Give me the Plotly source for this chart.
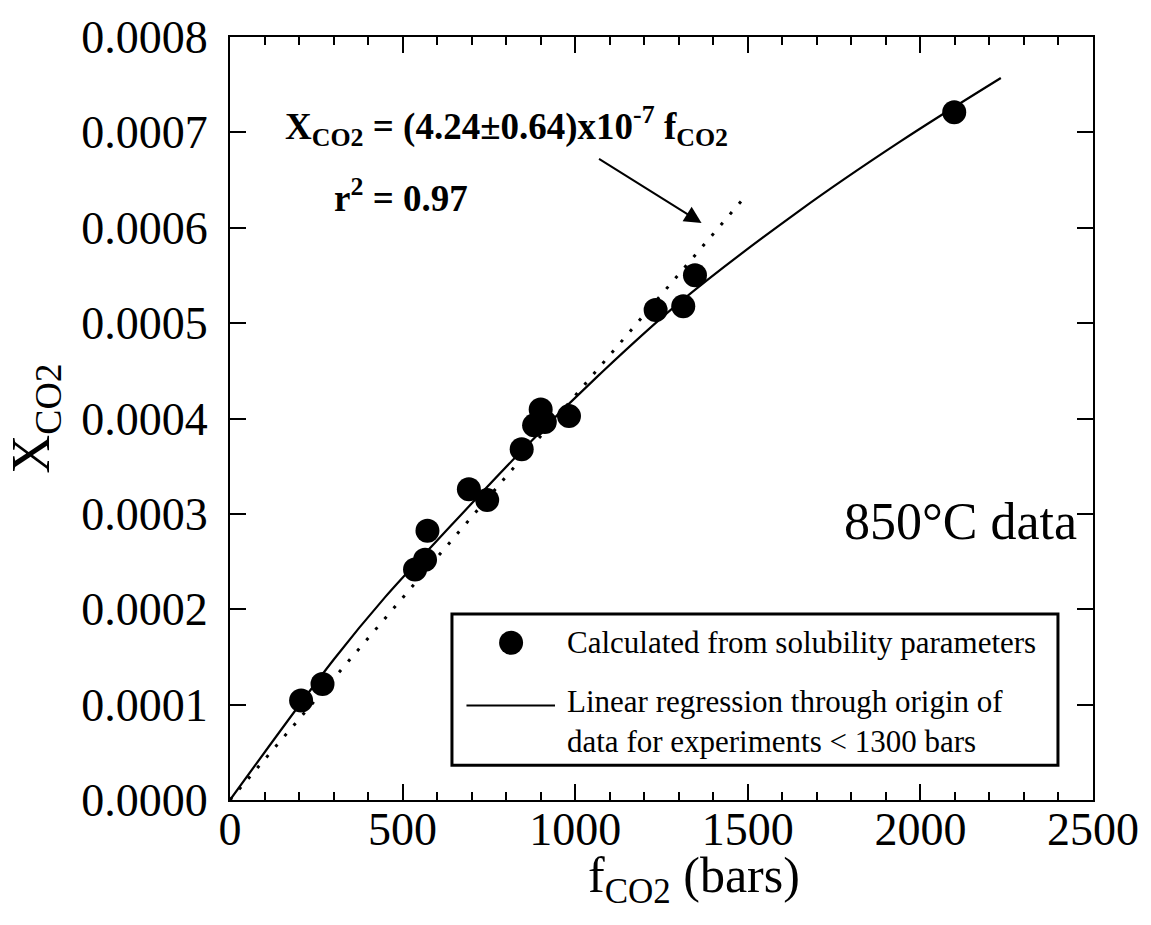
import plotly.graph_objects as go

# Calculated CO2 solubility points at 850 °C
f_co2 = [206, 268, 536, 565, 572, 692, 745, 845, 881, 900, 912, 982, 1233, 1313, 1347, 2098]
x_co2 = [0.0001043, 0.0001217, 0.0002416, 0.0002520, 0.0002822, 0.0003257, 0.0003146,
         0.0003677, 0.0003928, 0.0004094, 0.0003962, 0.0004025, 0.0005137, 0.0005177,
         0.0005502, 0.0007212]

# Smooth trend curve through the calculated points
curve_f = [0, 300, 450, 600, 850, 1070, 1300, 1650, 1940, 2233]
curve_x = [0, 0.000147, 0.000213, 0.000272, 0.000368, 0.000446, 0.000521, 0.000618, 0.000690, 0.000757]

# Linear regression through origin: X = 4.24e-7 * f
reg_slope = 4.24e-7
reg_f = [0, 1500]
reg_x = [reg_slope * f for f in reg_f]

x_ticks = [0, 500, 1000, 1500, 2000, 2500]
y_ticks = [0.0000, 0.0001, 0.0002, 0.0003, 0.0004, 0.0005, 0.0006, 0.0007, 0.0008]

SERIF = "Liberation Serif, Times New Roman, serif"

fig = go.Figure()
fig.add_trace(go.Scatter(x=reg_f, y=reg_x, mode="lines",
                         line=dict(color="black", width=3, dash="3px,11px"),
                         showlegend=False, hoverinfo="skip"))
fig.add_trace(go.Scatter(x=curve_f, y=curve_x, mode="lines", line_shape="spline",
                         line=dict(color="black", width=2.2),
                         showlegend=False))
fig.add_trace(go.Scatter(x=f_co2, y=x_co2, mode="markers",
                         marker=dict(color="black", size=24, line=dict(width=0)),
                         showlegend=False))

axis_common = dict(showline=True, linecolor="black", linewidth=2, mirror="ticks",
                   ticks="inside", tickcolor="black", tickwidth=2, ticklen=16,
                   showgrid=False, zeroline=False,
                   tickfont=dict(family=SERIF, size=46, color="black"))

fig.update_xaxes(range=[0, 2500], tickvals=x_ticks, ticktext=[str(v) for v in x_ticks],
                 ticklabelstandoff=-12,
                 minor=dict(dtick=100, ticks="inside", ticklen=8, tickwidth=2, tickcolor="black"),
                 **axis_common)
fig.update_yaxes(range=[0, 0.0008], tickvals=y_ticks, ticktext=[f"{v:.4f}" for v in y_ticks],
                 ticklabelstandoff=11,
                 title=dict(text="X<sub>CO2</sub>", standoff=14,
                            font=dict(family=SERIF, size=54, color="black")),
                 **axis_common)

# Legend box drawn by hand
legend_shapes = [
    dict(type="rect", xref="paper", yref="paper", x0=0.2572, x1=0.9594, y0=0.0456, y1=0.2438,
         line=dict(color="black", width=3), fillcolor="white", layer="above"),
    dict(type="circle", xref="paper", yref="paper", xsizemode="pixel", ysizemode="pixel",
         xanchor=0.3257, yanchor=0.2060, x0=-12, x1=12, y0=-12, y1=12,
         fillcolor="black", line=dict(width=0), layer="above"),
    dict(type="line", xref="paper", yref="paper", x0=0.2740, x1=0.3766, y0=0.1239, y1=0.1239,
         line=dict(color="black", width=2), layer="above"),
]

annotations = [
    dict(xref="paper", yref="paper", x=0.3882, y=0.2060, xanchor="left", yanchor="middle",
         text="Calculated from solubility parameters", showarrow=False,
         font=dict(family=SERIF, size=31, color="black")),
    dict(xref="paper", yref="paper", x=0.3882, y=0.1030, xanchor="left", yanchor="middle",
         text="Linear regression through origin of<br>data for experiments < 1300 bars",
         showarrow=False, align="left",
         font=dict(family=SERIF, size=31, color="black")),
    dict(x=153, y=0.000707, xanchor="left", yanchor="middle", showarrow=False,
         text="<b>X<sub>CO2</sub> = (4.24±0.64)x10<sup>-7</sup> f<sub>CO2</sub></b>",
         font=dict(family=SERIF, size=37, color="black")),
    dict(x=295, y=0.000634, xanchor="left", yanchor="middle", showarrow=False,
         text="<b>r<sup>2</sup> = 0.97</b>",
         font=dict(family=SERIF, size=37, color="black")),
    dict(x=1366, y=0.000605, ax=-104, ay=-65, showarrow=True, text="",
         arrowhead=2, arrowsize=1.7, arrowwidth=2, arrowcolor="black", standoff=0),
    dict(x=1773, y=0.000292, xanchor="left", yanchor="middle", showarrow=False,
         text="850°C data",
         font=dict(family=SERIF, size=52, color="black")),
    # x axis title
    dict(xref="paper", yref="paper", x=0.5377, y=-0.104, xanchor="center", yanchor="middle",
         showarrow=False, text="f<sub>CO2</sub> (bars)",
         font=dict(family=SERIF, size=50, color="black")),
]

fig.update_layout(width=1151, height=925,
                  margin=dict(l=230, r=58, t=33, b=125),
                  paper_bgcolor="white", plot_bgcolor="white",
                  shapes=legend_shapes, annotations=annotations,
                  font=dict(family=SERIF, color="black"))

fig.write_html("out.html")
